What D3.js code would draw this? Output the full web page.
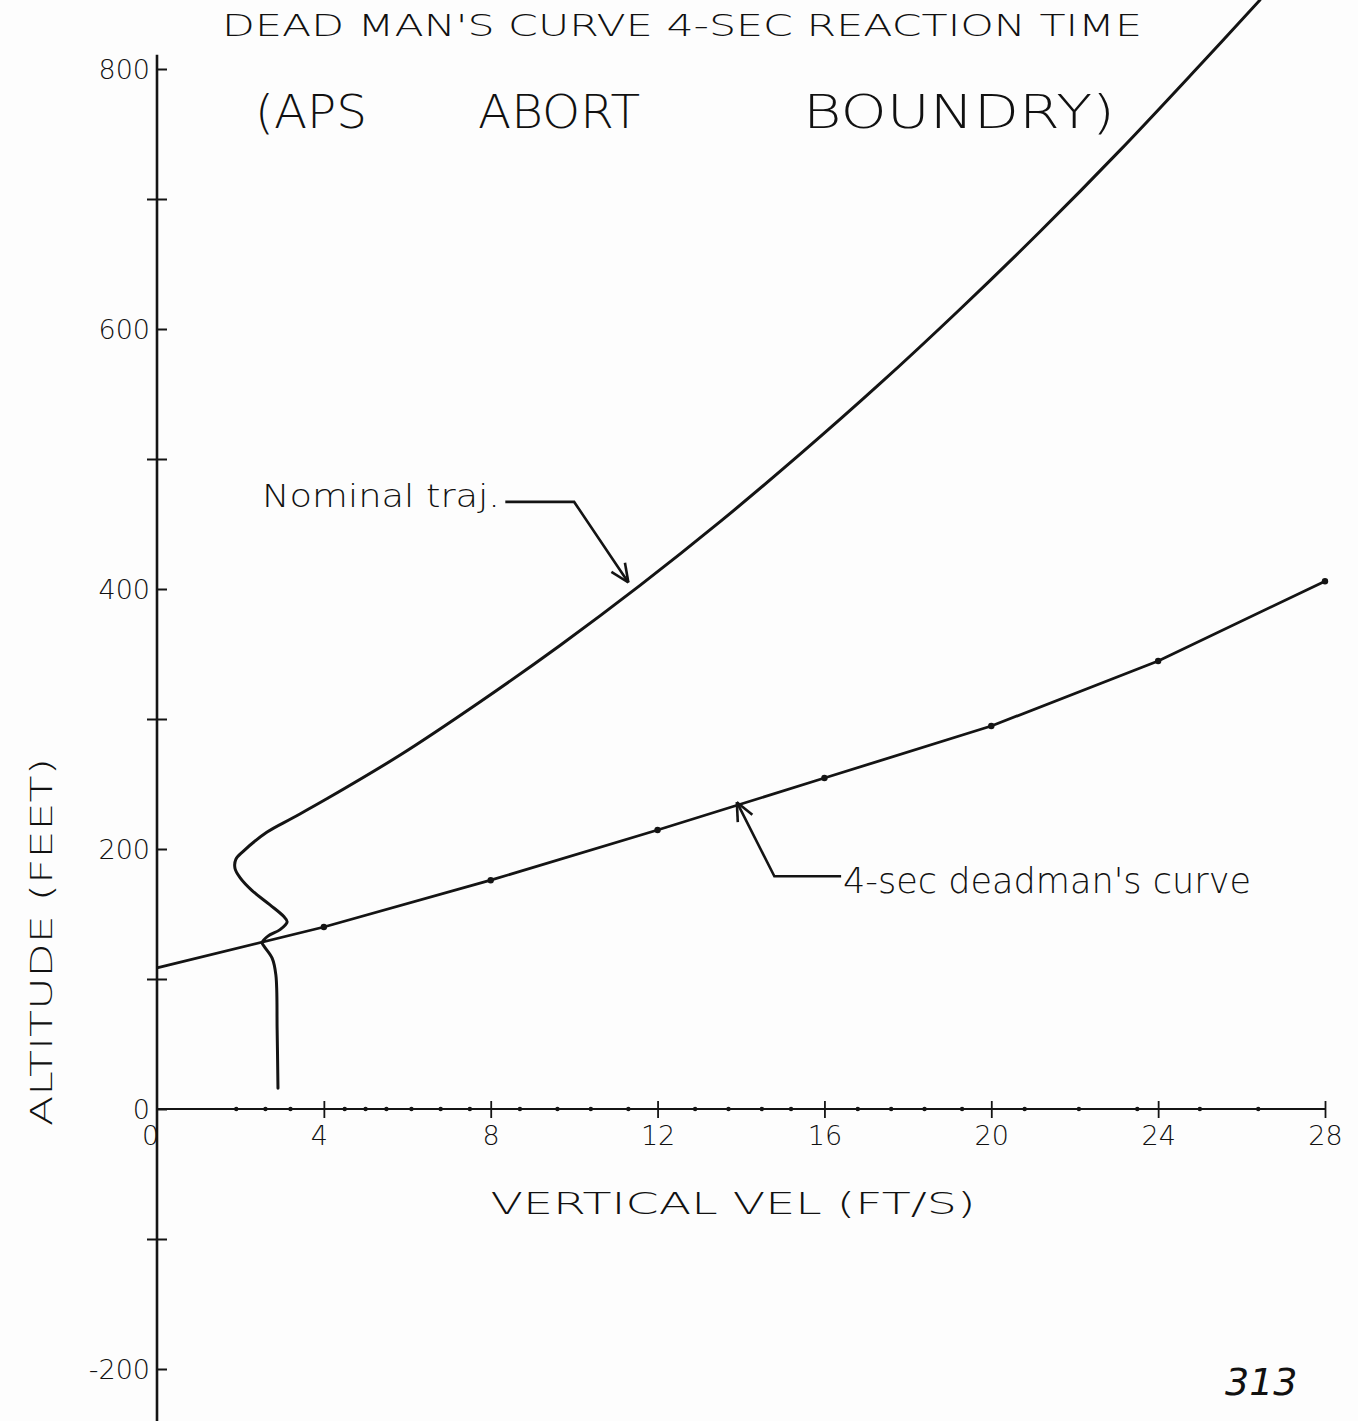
<!DOCTYPE html>
<html>
<head>
<meta charset="utf-8">
<script src="https://cdn.jsdelivr.net/npm/d3@7"></script>
<style>
  html, body { margin: 0; padding: 0; background: #fdfdfd; }
  svg { display: block; }
  text { fill: #111; }
</style>
</head>
<body>
<svg id="chart" width="1358" height="1421"></svg>
<script>
// ---------- data ----------
const nominalVel = [2.90, 2.88, 2.85, 2.76, 2.57, 2.52, 2.66, 2.95, 3.12, 3.04, 2.71, 2.28, 1.99, 1.87, 1.89, 2.06, 2.64, 3.26, 4.08, 5.83, 7.74, 9.66, 11.58, 13.50, 15.41, 17.33, 19.25, 21.17, 23.09, 25.00, 26.44];
const nominalAlt = [16, 61, 103, 116, 125, 128, 133, 138, 144, 148, 157, 168, 178, 185, 192, 198, 213, 224, 238.8, 272.3, 313.1, 356.6, 402.8, 451.8, 503.5, 557.9, 615.2, 675.0, 737.6, 802.9, 853];

const deadmanVel = [0, 4, 8, 12, 16, 20, 24, 28];
const deadmanAlt = [108.5, 140, 176, 214.6, 254.6, 294.6, 344.6, 406];

const xTickValues = [0, 4, 8, 12, 16, 20, 24, 28];
const xTickLabels = ["0", "4", "8", "12", "16", "20", "24", "28"];
const yTickValues = [-200, -100, 0, 100, 200, 300, 400, 500, 600, 700, 800];
const yTickLabels = ["-200", "", "0", "", "200", "", "400", "", "600", "", "800"];
// plotted points along the zero line
const axisDotVel = [1.9, 2.6, 3.2, 4.5, 5.0, 5.5, 6.1, 6.8, 7.5, 8.7, 9.6, 10.4, 11.3, 12.9, 13.7, 14.5, 15.2, 16.8, 17.6, 18.4, 19.3, 20.8, 22.1, 23.5, 25.0, 26.4];

const titleText = "DEAD MAN'S CURVE 4-SEC REACTION TIME";
const subtitleParts = ["(APS", "ABORT", "BOUNDRY)"];
const xTitle = "VERTICAL VEL  (FT/S)";
const yTitle = "ALTITUDE (FEET)";
const nominalLabel = "Nominal traj.";
const deadmanLabel = "4-sec deadman's curve";
const pageNumber = "313";

// ---------- scales ----------
const svg = d3.select("#chart");
const x = d3.scaleLinear().domain([0, 28]).range([157, 1325]);
const y = d3.scaleLinear().domain([0, 800]).range([1109, 69]);
const ink = "#141414";
const thinFont = "'DejaVu Sans', 'Liberation Sans', sans-serif";

// ---------- y axis ----------
svg.append("line")
  .attr("x1", x(0)).attr("x2", x(0))
  .attr("y1", y(811)).attr("y2", y(-245))
  .attr("stroke", ink).attr("stroke-width", 2.6);

const yAxis = d3.axisLeft(y)
  .tickValues(yTickValues)
  .tickSize(0)
  .tickPadding(7)
  .tickFormat((d, i) => yTickLabels[i]);
const gy = svg.append("g").attr("transform", `translate(${x(0)},0)`).call(yAxis);
gy.select(".domain").remove();
gy.selectAll(".tick line").remove();
gy.selectAll(".tick").append("line")
  .attr("x1", (d, i) => yTickLabels[i] ? 0 : -10).attr("x2", 10)
  .attr("stroke", ink).attr("stroke-width", 2);
gy.selectAll(".tick text")
  .attr("font-family", thinFont).attr("font-weight", 300)
  .attr("font-size", 27).attr("fill", ink).attr("dy", "0.36em");

// ---------- x axis (zero line) ----------
svg.append("line")
  .attr("x1", x(0)).attr("x2", x(28))
  .attr("y1", y(0)).attr("y2", y(0))
  .attr("stroke", ink).attr("stroke-width", 1.8);
svg.selectAll(".axdot").data(axisDotVel).join("circle")
  .attr("cx", d => x(d)).attr("cy", y(0)).attr("r", 2.2).attr("fill", ink);

const xAxis = d3.axisBottom(x)
  .tickValues(xTickValues)
  .tickSize(0)
  .tickPadding(17)
  .tickFormat((d, i) => xTickLabels[i]);
const gx = svg.append("g").attr("transform", `translate(0,${y(0)})`).call(xAxis);
gx.select(".domain").remove();
gx.selectAll(".tick line").remove();
gx.selectAll(".tick").filter(d => d > 0).append("line")
  .attr("y1", -8).attr("y2", 9)
  .attr("stroke", ink).attr("stroke-width", 1.8);
gx.selectAll(".tick text")
  .attr("font-family", thinFont).attr("font-weight", 300)
  .attr("font-size", 27).attr("fill", ink)
  .attr("dx", d => d === 0 ? -7 : (d === 4 ? -5 : 0));

// ---------- curves ----------
const nominal = nominalVel.map((v, i) => [v, nominalAlt[i]]);
const deadman = deadmanVel.map((v, i) => [v, deadmanAlt[i]]);

svg.append("path")
  .attr("d", d3.line().x(d => x(d[0])).y(d => y(d[1])).curve(d3.curveCatmullRom.alpha(0.5))(nominal))
  .attr("fill", "none").attr("stroke", ink).attr("stroke-width", 3)
  .attr("stroke-linejoin", "round").attr("stroke-linecap", "round");

svg.append("path")
  .attr("d", d3.line().x(d => x(d[0])).y(d => y(d[1])).curve(d3.curveLinear)(deadman))
  .attr("fill", "none").attr("stroke", ink).attr("stroke-width", 2.8)
  .attr("stroke-linejoin", "round");
svg.selectAll(".dm").data(deadman.slice(1)).join("circle")
  .attr("cx", d => x(d[0])).attr("cy", d => y(d[1])).attr("r", 3.2).attr("fill", ink);

// ---------- titles ----------
svg.append("text")
  .attr("x", 222).attr("y", 36)
  .attr("font-family", thinFont).attr("font-weight", 200).attr("font-size", 30)
  .attr("textLength", 920).attr("lengthAdjust", "spacingAndGlyphs")
  .text(titleText);

const subX = [255, 478, 803];
const subW = [112, 162, 312];
svg.selectAll(".sub").data(subtitleParts).join("text")
  .attr("x", (d, i) => subX[i]).attr("y", 128)
  .attr("font-family", thinFont).attr("font-weight", 300).attr("font-size", 46)
  .attr("textLength", (d, i) => subW[i]).attr("lengthAdjust", "spacingAndGlyphs")
  .text(d => d);

svg.append("text")
  .attr("x", 733).attr("y", 1214).attr("text-anchor", "middle")
  .attr("font-family", thinFont).attr("font-weight", 200).attr("font-size", 30)
  .attr("textLength", 485).attr("lengthAdjust", "spacingAndGlyphs")
  .text(xTitle);

svg.append("text")
  .attr("transform", "translate(52,942) rotate(-90)").attr("text-anchor", "middle")
  .attr("font-family", thinFont).attr("font-weight", 200).attr("font-size", 30)
  .attr("textLength", 368).attr("lengthAdjust", "spacingAndGlyphs")
  .text(yTitle);

// ---------- annotations (anchored in data units) ----------
function arrow(points, tip, from) {
  svg.append("path")
    .attr("d", d3.line()(points))
    .attr("fill", "none").attr("stroke", ink).attr("stroke-width", 2.6);
  const ang = Math.atan2(tip[1] - from[1], tip[0] - from[0]);
  const len = 20, spread = 0.42;
  const barbs = [ang + Math.PI - spread, ang + Math.PI + spread].map(a =>
    [[tip[0] + len * Math.cos(a), tip[1] + len * Math.sin(a)], tip]);
  barbs.forEach(b => svg.append("path").attr("d", d3.line()(b))
    .attr("fill", "none").attr("stroke", ink).attr("stroke-width", 2.6));
}

// Nominal traj.
const nTip = [x(11.3), y(405)];
const nKnee = [x(10.0), y(467)];
const nStart = [x(8.35), y(467)];
arrow([nStart, nKnee, nTip], nTip, nKnee);
svg.append("text")
  .attr("x", 262).attr("y", 507)
  .attr("font-family", thinFont).attr("font-weight", 300).attr("font-size", 32)
  .attr("textLength", 238).attr("lengthAdjust", "spacingAndGlyphs")
  .text(nominalLabel);

// 4-sec deadman's curve
const dTip = [x(13.9), y(236)];
const dKnee = [x(14.8), y(179)];
const dEnd = [x(16.4), y(179)];
arrow([dEnd, dKnee, dTip], dTip, dKnee);
svg.append("text")
  .attr("x", 843).attr("y", 893)
  .attr("font-family", thinFont).attr("font-weight", 300).attr("font-size", 36)
  .attr("textLength", 408).attr("lengthAdjust", "spacingAndGlyphs")
  .text(deadmanLabel);

// page number
svg.append("text")
  .attr("x", 1225).attr("y", 1395)
  .attr("font-family", thinFont).attr("font-weight", 300).attr("font-style", "italic")
  .attr("font-size", 38)
  .text(pageNumber);
</script>
</body>
</html>
